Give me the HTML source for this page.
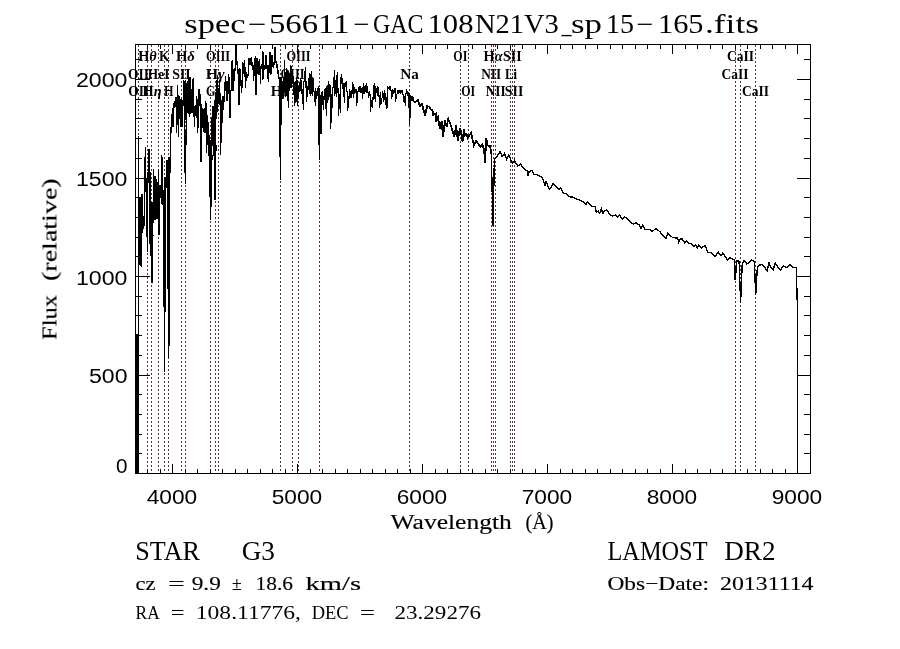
<!DOCTYPE html><html><head><meta charset="utf-8"><title>spec</title><style>
html,body{margin:0;padding:0;background:#fff}body{width:900px;height:649px;overflow:hidden}
svg{display:block}text{font-family:"Liberation Serif",serif;fill:#000}
.sans{font-family:"Liberation Sans",sans-serif}
.lab{font-size:14.5px;font-weight:bold}.med{stroke:#000;stroke-width:.15px}
</style></head><body>
<svg width="900" height="649" viewBox="0 0 900 649">
<rect width="900" height="649" fill="#fff"/>
<path d="M138.5 45V473M147.5 45V473M151.5 45V473M158.5 45V473M164.5 45V473M168.5 45V473M181.5 45V473M185.5 45V473M210.5 45V473M215.5 45V473M218.5 45V473M280.5 45V473M292.5 45V473M298.5 45V473M319.5 45V473M409.5 45V473M460.5 45V473M468.5 45V473M491.5 45V473M493.5 45V473M495.5 45V473M510.5 45V473M512.5 45V473M514.5 45V473M735.5 45V473M740.5 45V473M755.5 45V473" stroke="#5e3036" stroke-width="1" stroke-dasharray="2 2" fill="none" shape-rendering="crispEdges"/>
<path d="M139.5 197.0V265.0M140.5 197.0V265.5M141.5 194.3V266.6M142.5 194.3V232.5M143.5 216.0V228.7M144.5 157.0V226.0M145.5 147.0V191.8M146.5 178.0V237.0M147.5 172.0V252.0M148.5 149.2V182.7M149.5 149.2V244.0M150.5 172.0V256.3M151.5 202.0V240.0M152.5 202.0V240.0M153.5 169.0V223.0M154.5 176.0V220.0M155.5 176.0V220.0M156.5 179.0V219.0M157.5 182.0V218.5M158.5 170.0V235.3M159.5 185.4V235.3M160.5 185.4V198.0M161.5 155.0V204.0M162.5 157.0V205.0M163.5 190.0V200.0M164.5 177.0V200.0M165.5 177.0V200.0M166.5 160.0V188.0M167.5 160.0V200.0M168.5 157.0V200.0M169.5 157.0V200.0M170.5 126.5V173.0M171.5 114.3V132.7M172.5 107.7V127.0M173.5 102.8V127.0M174.5 101.0V107.7M175.5 97.2V107.0M176.5 96.7V132.7M177.5 85.0V125.0M178.5 95.0V136.5M179.5 95.5V118.8M180.5 99.0V126.5M181.5 99.0V126.5M182.5 99.5V126.5M183.5 80.0V106.0M184.5 81.0V120.0M185.5 79.5V120.0M186.5 82.8V130.0M187.5 81.0V113.0M188.5 77.2V113.8M189.5 77.2V116.5M190.5 77.2V113.8M191.5 89.4V113.0M192.5 79.0V113.0M193.5 78.3V116.5M194.5 106.0V126.8M195.5 105.0V116.0M196.5 96.0V118.0M197.5 99.0V132.7M198.5 89.2V127.7M199.5 89.2V106.0M200.5 94.0V161.7M201.5 104.4V161.7M202.5 108.0V128.0M203.5 108.8V132.0M204.5 108.0V132.7M205.5 101.0V133.0M206.5 103.0V152.5M207.5 115.4V145.0M208.5 122.0V155.5M209.5 135.0V160.0M210.5 140.0V160.0M211.5 117.0V160.0M212.5 106.0V145.5M213.5 106.0V150.0M214.5 100.0V150.0M215.5 92.0V150.0M216.5 80.0V118.8M217.5 75.0V111.5M218.5 88.0V104.0M219.5 80.0V105.0M220.5 93.0V154.7M221.5 99.5V143.3M222.5 96.0V123.0M223.5 96.0V110.0M224.5 82.0V101.8M225.5 76.3V90.5M226.5 81.0V100.7M227.5 81.0V100.7M228.5 74.0V94.0M229.5 77.0V117.9M230.5 89.5V117.9M231.5 61.3V90.7M232.5 60.2V90.7M233.5 69.0V90.7M234.5 68.0V81.0M235.5 44.5V70.8M236.5 44.5V64.7M237.5 61.0V73.5M238.5 68.5V104.8M239.5 68.0V104.8M240.5 68.5V86.0M241.5 79.5V92.6M242.5 62.2V87.6M243.5 63.0V74.0M244.5 60.0V77.0M245.5 67.0V88.0M246.5 72.0V81.0M247.5 73.5V78.0M248.5 58.0V75.8M249.5 58.0V64.7M250.5 58.0V64.7M251.5 57.0V65.8M252.5 62.0V70.0M253.5 64.7V80.8M254.5 58.0V76.0M255.5 56.0V94.5M256.5 58.0V94.5M257.5 58.0V74.0M258.5 61.0V74.7M259.5 59.0V75.0M260.5 65.8V84.0M261.5 64.0V69.0M262.5 51.0V79.7M263.5 52.0V79.3M264.5 65.0V70.0M265.5 55.4V69.3M266.5 55.4V69.3M267.5 65.0V79.3M268.5 65.0V81.8M269.5 52.0V72.7M270.5 52.0V75.0M271.5 55.0V73.8M272.5 55.0V67.0M273.5 62.0V67.7M274.5 47.0V65.0M275.5 47.0V63.0M276.5 61.0V68.0M277.5 63.8V73.8M278.5 70.0V79.3M279.5 77.0V125.0M280.5 77.0V125.0M281.5 77.0V125.0M282.5 81.0V98.3M283.5 77.0V96.3M284.5 59.5V88.3M285.5 71.8V97.3M286.5 68.4V96.0M287.5 70.0V100.9M288.5 75.6V108.3M289.5 72.9V91.0M290.5 65.0V88.1M291.5 66.0V88.4M292.5 71.3V84.2M293.5 76.2V95.0M294.5 81.7V106.4M295.5 80.5V103.1M296.5 77.0V101.6M297.5 80.0V106.0M298.5 86.2V99.4M299.5 81.5V92.0M300.5 78.4V90.7M301.5 80.0V94.0M302.5 89.3V104.2M303.5 80.7V110.3M304.5 70.7V82.2M305.5 67.3V88.4M306.5 80.7V102.2M307.5 85.8V97.4M308.5 77.6V90.4M309.5 73.0V93.7M310.5 73.8V96.0M311.5 70.7V93.7M312.5 77.3V96.0M313.5 77.9V91.9M314.5 90.9V101.7M315.5 88.0V106.0M316.5 91.4V99.4M317.5 87.8V95.5M318.5 86.0V145.4M319.5 88.0V160.0M320.5 95.0V134.0M321.5 92.0V134.0M322.5 90.5V104.7M323.5 95.5V110.0M324.5 89.0V100.0M325.5 88.1V109.4M326.5 85.5V115.5M327.5 85.3V103.0M328.5 80.5V99.9M329.5 84.0V96.7M330.5 84.7V129.0M331.5 94.4V122.5M332.5 86.7V107.8M333.5 76.9V87.7M334.5 70.0V95.5M335.5 80.4V93.7M336.5 75.2V96.7M337.5 72.0V93.2M338.5 87.8V115.5M339.5 93.6V108.9M340.5 77.0V113.3M341.5 74.4V84.1M342.5 78.3V89.0M343.5 83.3V96.6M344.5 82.5V103.0M345.5 81.9V87.0M346.5 81.0V92.2M347.5 91.2V110.5M348.5 96.0V108.3M349.5 89.0V99.0M350.5 90.7V98.1M351.5 89.8V97.8M352.5 82.0V93.9M353.5 83.6V97.8M354.5 86.7V93.9M355.5 88.9V92.5M356.5 88.8V105.5M357.5 91.2V102.6M358.5 86.9V92.2M359.5 85.5V92.0M360.5 86.2V92.6M361.5 87.8V93.3M362.5 87.3V99.0M363.5 83.0V93.8M364.5 86.1V94.4M365.5 84.7V92.4M366.5 83.0V93.0M367.5 86.3V92.8M368.5 91.8V97.8M369.5 91.0V95.8M370.5 94.4V111.7M371.5 99.6V106.9M372.5 96.8V107.9M373.5 84.7V100.3M374.5 83.0V99.0M375.5 85.8V102.0M376.5 87.5V92.9M377.5 85.5V95.6M378.5 86.7V96.7M379.5 94.8V108.3M380.5 92.0V104.9M381.5 97.6V104.3M382.5 91.0V98.4M383.5 92.9V102.0M384.5 90.0V100.0M385.5 93.3V104.6M386.5 97.4V109.4M387.5 86.3V107.8M388.5 86.7V89.4M389.5 86.0V89.5M390.5 85.5V91.2M391.5 90.2V99.0M392.5 89.0V96.6M393.5 90.0V93.6M394.5 87.8V92.9M395.5 88.4V102.0M396.5 94.0V98.8M397.5 90.2V94.4M398.5 89.5V93.6M399.5 90.2V93.2M400.5 90.2V93.5M401.5 90.1V92.8M402.5 90.4V95.0M403.5 94.0V101.5M404.5 95.9V102.8M405.5 93.3V105.5M406.5 89.0V93.6M407.5 90.6V95.5M408.5 92.0V108.0M409.5 93.0V125.0M410.5 95.0V117.8M411.5 95.5V101.0M412.5 96.1V100.5M413.5 97.0V99.8" stroke="#000" stroke-width="1" fill="none" shape-rendering="crispEdges"/>
<path d="M136.0 334H137.8V473.5H136.0ZM137.5 136H138.6V473.5H137.5ZM138.3 197H139.2V262H138.3ZM279 125H280.6V156.5H279ZM279.8 156H280.8V180.4H279.8ZM796 268H797V300H796ZM796.5 288H797.5V435H796.5ZM797 415H798V473.5H797Z" fill="#000" shape-rendering="crispEdges"/>
<path d="M162.88 195L164.12 195L165.12 371.5L163.88 371.5ZM165.08 195L166.32 195L165.12 371.5L163.88 371.5ZM163.58 195L164.82 195L165.52 300L164.28 300ZM164.58 195L165.82 195L165.52 300L164.28 300ZM166.88 195L168.12 195L169.22 358L167.98 358ZM169.08 195L170.32 195L169.22 358L167.98 358ZM168.18 195L169.42 195L169.82 346L168.58 346ZM168.88 195L170.12 195L169.82 346L168.58 346ZM183.68 115L184.92 115L185.92 184L184.68 184ZM185.58 125L186.82 125L185.92 184L184.68 184ZM208.68 155L209.92 155L211.22 220L209.98 220ZM211.38 155L212.62 155L211.22 220L209.98 220ZM209.58 155L210.82 155L211.22 200L209.98 200ZM210.58 155L211.82 155L211.22 200L209.98 200ZM213.28 145L214.52 145L215.72 199.6L214.48 199.6ZM215.38 145L216.62 145L215.72 199.6L214.48 199.6ZM213.98 145L215.22 145L215.72 191L214.48 191ZM214.88 145L216.12 145L215.72 191L214.48 191ZM150.48 235L151.72 235L152.72 283L151.48 283ZM152.28 235L153.52 235L152.72 283L151.48 283Z" fill="#000" shape-rendering="crispEdges"/>
<polyline points="411.5,97.0 413.0,100.5 415.0,102.5 417.8,100.0 420.0,106.1 421.9,103.9 425.0,115.5 427.2,106.1 429.4,106.7 430.5,109.4 432.2,109.4 433.3,115.0 436.0,113.5 436.3,121.7 438.0,117.5 440.0,128.9 441.7,121.1 443.0,137.2 445.0,120.5 446.7,126.7 448.3,118.9 450.5,124.4 454.4,136.7 456.1,125.0 457.8,140.5 460.0,128.3 461.0,132.0 462.5,141.7 463.9,129.4 465.0,135.5 466.7,134.4 467.8,137.8 471.1,132.8 473.9,145.5 476.1,141.1 478.3,143.9 480.5,146.7 482.2,144.4 484.2,150.0 485.0,162.8 486.3,138.3 487.8,145.5 490.2,146.1 491.3,153.9 493.0,225.5 494.4,158.9 497.2,156.1 500.2,151.7 502.2,156.7 504.4,153.5 506.7,159.4 508.9,155.0 512.2,163.3 514.4,160.5 517.8,166.1 520.5,163.9 523.9,168.9 527.2,171.1 528.0,176.1 529.1,171.7 532.0,170.5 533.9,174.4 537.8,175.0 542.2,177.2 545.0,185.0 546.1,181.7 549.4,189.4 551.1,187.8 553.1,183.2 557.0,187.1 559.3,189.4 560.9,187.9 563.2,193.3 565.6,193.3 568.7,196.7 573.3,197.2 578.0,199.5 583.4,201.9 586.1,204.5 587.6,201.9 592.0,206.5 595.1,206.5 596.2,212.0 598.2,211.2 599.8,213.5 601.3,208.9 602.9,213.5 604.4,211.2 606.8,210.1 609.9,214.3 612.2,215.9 615.3,215.1 617.6,217.4 619.7,214.8 622.3,219.5 624.6,216.7 628.5,220.1 633.2,224.1 636.3,222.9 639.4,225.2 641.0,228.3 642.8,224.7 644.9,229.4 649.5,229.4 651.9,231.4 655.8,228.8 659.6,231.4 662.8,235.6 665.9,238.4 667.7,233.5 672.9,237.7 677.5,238.0 678.8,242.3 680.3,238.4 682.3,239.1 684.7,243.0 686.5,240.7 689.3,243.8 691.7,243.8 694.0,246.1 695.6,244.9 697.1,248.0 698.7,245.3 701.8,248.0 704.9,245.3 708.0,252.3 711.9,253.1 715.0,256.7 718.1,252.0 721.2,255.7 722.8,253.1 725.9,257.3 727.4,260.1 729.8,257.8 733.7,259.3 734.7,260.1 735.2,280.3 736.8,260.9 739.1,261.3 740.6,302.9 742.2,264.8 744.1,260.1 746.9,264.0 749.2,262.9 751.5,260.1 754.3,261.3 755.7,295.1 757.3,267.9 759.3,265.1 762.4,264.5 764.8,267.6 767.1,270.7 769.0,262.9 771.0,267.1 773.3,269.4 775.2,262.9 777.7,267.1 780.3,270.2 783.4,266.0 786.5,267.6 790.4,264.5 792.8,267.1 796.3,267.9 796.5,270.0" fill="none" stroke="#000" stroke-width="1.35" stroke-linejoin="miter" shape-rendering="crispEdges"/>
<polyline points="411.5,97.0 413.0,100.5 415.0,102.5 417.8,100.0 420.0,106.1 421.9,103.9 425.0,115.5 427.2,106.1 429.4,106.7 430.5,109.4 432.2,109.4 433.3,115.0 436.0,113.5 436.3,121.7 438.0,117.5 440.0,128.9 441.7,121.1 443.0,137.2 445.0,120.5 446.7,126.7 448.3,118.9 450.5,124.4 454.4,136.7 456.1,125.0 457.8,140.5 460.0,128.3 461.0,132.0 462.5,141.7 463.9,129.4 465.0,135.5 466.7,134.4 467.8,137.8 471.1,132.8 473.9,145.5 476.1,141.1 478.3,143.9 480.5,146.7 482.2,144.4 484.2,150.0 485.0,162.8 486.3,138.3 487.8,145.5 490.2,146.1 491.3,153.9" fill="none" stroke="#000" stroke-width="1.8" stroke-linejoin="miter" shape-rendering="crispEdges"/>
<rect x="135.5" y="44.5" width="675.0" height="429.0" fill="none" stroke="#000" stroke-width="1" shape-rendering="crispEdges"/>
<path d="M147.50 473.5v-4.3M147.50 44.5v4.3M160.00 473.5v-4.3M160.00 44.5v4.3M172.50 473.5v-9.5M172.50 44.5v9.5M185.00 473.5v-4.3M185.00 44.5v4.3M197.50 473.5v-4.3M197.50 44.5v4.3M210.00 473.5v-4.3M210.00 44.5v4.3M222.50 473.5v-4.3M222.50 44.5v4.3M235.00 473.5v-4.3M235.00 44.5v4.3M247.50 473.5v-4.3M247.50 44.5v4.3M260.00 473.5v-4.3M260.00 44.5v4.3M272.50 473.5v-4.3M272.50 44.5v4.3M285.00 473.5v-4.3M285.00 44.5v4.3M297.50 473.5v-9.5M297.50 44.5v9.5M310.00 473.5v-4.3M310.00 44.5v4.3M322.50 473.5v-4.3M322.50 44.5v4.3M335.00 473.5v-4.3M335.00 44.5v4.3M347.50 473.5v-4.3M347.50 44.5v4.3M360.00 473.5v-4.3M360.00 44.5v4.3M372.50 473.5v-4.3M372.50 44.5v4.3M385.00 473.5v-4.3M385.00 44.5v4.3M397.50 473.5v-4.3M397.50 44.5v4.3M410.00 473.5v-4.3M410.00 44.5v4.3M422.50 473.5v-9.5M422.50 44.5v9.5M435.00 473.5v-4.3M435.00 44.5v4.3M447.50 473.5v-4.3M447.50 44.5v4.3M460.00 473.5v-4.3M460.00 44.5v4.3M472.50 473.5v-4.3M472.50 44.5v4.3M485.00 473.5v-4.3M485.00 44.5v4.3M497.50 473.5v-4.3M497.50 44.5v4.3M510.00 473.5v-4.3M510.00 44.5v4.3M522.50 473.5v-4.3M522.50 44.5v4.3M535.00 473.5v-4.3M535.00 44.5v4.3M547.50 473.5v-9.5M547.50 44.5v9.5M560.00 473.5v-4.3M560.00 44.5v4.3M572.50 473.5v-4.3M572.50 44.5v4.3M585.00 473.5v-4.3M585.00 44.5v4.3M597.50 473.5v-4.3M597.50 44.5v4.3M610.00 473.5v-4.3M610.00 44.5v4.3M622.50 473.5v-4.3M622.50 44.5v4.3M635.00 473.5v-4.3M635.00 44.5v4.3M647.50 473.5v-4.3M647.50 44.5v4.3M660.00 473.5v-4.3M660.00 44.5v4.3M672.50 473.5v-9.5M672.50 44.5v9.5M685.00 473.5v-4.3M685.00 44.5v4.3M697.50 473.5v-4.3M697.50 44.5v4.3M710.00 473.5v-4.3M710.00 44.5v4.3M722.50 473.5v-4.3M722.50 44.5v4.3M735.00 473.5v-4.3M735.00 44.5v4.3M747.50 473.5v-4.3M747.50 44.5v4.3M760.00 473.5v-4.3M760.00 44.5v4.3M772.50 473.5v-4.3M772.50 44.5v4.3M785.00 473.5v-4.3M785.00 44.5v4.3M797.50 473.5v-9.5M797.50 44.5v9.5M135.5 453.80h6.5M810.5 453.80h-6.5M135.5 434.10h6.5M810.5 434.10h-6.5M135.5 414.40h6.5M810.5 414.40h-6.5M135.5 394.70h6.5M810.5 394.70h-6.5M135.5 375.00h14M810.5 375.00h-14M135.5 355.30h6.5M810.5 355.30h-6.5M135.5 335.60h6.5M810.5 335.60h-6.5M135.5 315.90h6.5M810.5 315.90h-6.5M135.5 296.20h6.5M810.5 296.20h-6.5M135.5 276.50h14M810.5 276.50h-14M135.5 256.80h6.5M810.5 256.80h-6.5M135.5 237.10h6.5M810.5 237.10h-6.5M135.5 217.40h6.5M810.5 217.40h-6.5M135.5 197.70h6.5M810.5 197.70h-6.5M135.5 178.00h14M810.5 178.00h-14M135.5 158.30h6.5M810.5 158.30h-6.5M135.5 138.60h6.5M810.5 138.60h-6.5M135.5 118.90h6.5M810.5 118.90h-6.5M135.5 99.20h6.5M810.5 99.20h-6.5M135.5 79.50h14M810.5 79.50h-14M135.5 59.80h6.5M810.5 59.80h-6.5" stroke="#000" stroke-width="1" fill="none" shape-rendering="crispEdges"/>
<g opacity="0.999">
<text class="lab" x="147.4" y="61" text-anchor="middle" textLength="18.5" lengthAdjust="spacingAndGlyphs">H<tspan font-style="italic">θ</tspan></text>
<text class="lab" x="164.3" y="61" text-anchor="middle" textLength="10.5" lengthAdjust="spacingAndGlyphs">K</text>
<text class="lab" x="185.4" y="61" text-anchor="middle" textLength="19" lengthAdjust="spacingAndGlyphs">H<tspan font-style="italic">δ</tspan></text>
<text class="lab" x="218.1" y="61" text-anchor="middle" textLength="24" lengthAdjust="spacingAndGlyphs">OIII</text>
<text class="lab" x="298.5" y="61" text-anchor="middle" textLength="24" lengthAdjust="spacingAndGlyphs">OIII</text>
<text class="lab" x="460.3" y="61" text-anchor="middle" textLength="14" lengthAdjust="spacingAndGlyphs">OI</text>
<text class="lab" x="493.1" y="61" text-anchor="middle" textLength="19" lengthAdjust="spacingAndGlyphs">H<tspan font-style="italic">α</tspan></text>
<text class="lab" x="512.3" y="61" text-anchor="middle" textLength="18.5" lengthAdjust="spacingAndGlyphs">SII</text>
<text class="lab" x="740.6" y="61" text-anchor="middle" textLength="27" lengthAdjust="spacingAndGlyphs">CaII</text>
<text class="lab" x="138.4" y="79" text-anchor="middle" textLength="21" lengthAdjust="spacingAndGlyphs">OII</text>
<text class="lab" x="158.6" y="79" text-anchor="middle" textLength="21.5" lengthAdjust="spacingAndGlyphs">HeI</text>
<text class="lab" x="181.5" y="79" text-anchor="middle" textLength="18.5" lengthAdjust="spacingAndGlyphs">SII</text>
<text class="lab" x="215.2" y="79" text-anchor="middle" textLength="19" lengthAdjust="spacingAndGlyphs">H<tspan font-style="italic">γ</tspan></text>
<text class="lab" x="292.5" y="79" text-anchor="middle" textLength="24" lengthAdjust="spacingAndGlyphs">OIII</text>
<text class="lab" x="409.5" y="79" text-anchor="middle" textLength="18.5" lengthAdjust="spacingAndGlyphs">Na</text>
<text class="lab" x="491.2" y="79" text-anchor="middle" textLength="20" lengthAdjust="spacingAndGlyphs">NII</text>
<text class="lab" x="511.0" y="79" text-anchor="middle" textLength="12" lengthAdjust="spacingAndGlyphs">Li</text>
<text class="lab" x="735.0" y="79" text-anchor="middle" textLength="27" lengthAdjust="spacingAndGlyphs">CaII</text>
<text class="lab" x="138.7" y="96" text-anchor="middle" textLength="21" lengthAdjust="spacingAndGlyphs">OII</text>
<text class="lab" x="152.1" y="96" text-anchor="middle" textLength="19" lengthAdjust="spacingAndGlyphs">H<tspan font-style="italic">η</tspan></text>
<text class="lab" x="168.7" y="96" text-anchor="middle" textLength="9.5" lengthAdjust="spacingAndGlyphs">H</text>
<text class="lab" x="210.7" y="96" text-anchor="middle" textLength="9.5" lengthAdjust="spacingAndGlyphs">G</text>
<text class="lab" x="280.3" y="96" text-anchor="middle" textLength="19" lengthAdjust="spacingAndGlyphs">H<tspan font-style="italic">β</tspan></text>
<text class="lab" x="468.2" y="96" text-anchor="middle" textLength="14" lengthAdjust="spacingAndGlyphs">OI</text>
<text class="lab" x="495.7" y="96" text-anchor="middle" textLength="20" lengthAdjust="spacingAndGlyphs">NII</text>
<text class="lab" x="514.1" y="96" text-anchor="middle" textLength="18.5" lengthAdjust="spacingAndGlyphs">SII</text>
<text class="lab" x="755.6" y="96" text-anchor="middle" textLength="27" lengthAdjust="spacingAndGlyphs">CaII</text>
<text x="184.3" y="33" font-size="26.5" textLength="61.2" lengthAdjust="spacingAndGlyphs">spec</text>
<text x="248" y="33" font-size="26.5" textLength="18.5" lengthAdjust="spacingAndGlyphs">−</text>
<text x="269" y="33" font-size="26.5" textLength="80.5" lengthAdjust="spacingAndGlyphs">56611</text>
<text x="353.5" y="33" font-size="26.5" textLength="16.0" lengthAdjust="spacingAndGlyphs">−</text>
<text x="373" y="33" font-size="26.5" textLength="50.5" lengthAdjust="spacingAndGlyphs">GAC</text>
<text x="427.5" y="33" font-size="26.5" textLength="46.0" lengthAdjust="spacingAndGlyphs">108</text>
<text x="475" y="33" font-size="26.5" textLength="83.8" lengthAdjust="spacingAndGlyphs">N21V3</text>
<text x="561.5" y="33" font-size="26.5" textLength="10.0" lengthAdjust="spacingAndGlyphs">_</text>
<text x="571" y="33" font-size="26.5" textLength="31.0" lengthAdjust="spacingAndGlyphs">sp</text>
<text x="606" y="33" font-size="26.5" textLength="28.0" lengthAdjust="spacingAndGlyphs">15</text>
<text x="636.5" y="33" font-size="26.5" textLength="17.0" lengthAdjust="spacingAndGlyphs">−</text>
<text x="658" y="33" font-size="26.5" textLength="45.5" lengthAdjust="spacingAndGlyphs">165</text>
<text x="705" y="33" font-size="26.5" textLength="54.0" lengthAdjust="spacingAndGlyphs">.fits</text>
<text class="sans" x="172.0" y="504" font-size="19.8" text-anchor="middle" textLength="50.5" lengthAdjust="spacingAndGlyphs">4000</text>
<text class="sans" x="297.0" y="504" font-size="19.8" text-anchor="middle" textLength="50.5" lengthAdjust="spacingAndGlyphs">5000</text>
<text class="sans" x="422.0" y="504" font-size="19.8" text-anchor="middle" textLength="50.5" lengthAdjust="spacingAndGlyphs">6000</text>
<text class="sans" x="547.0" y="504" font-size="19.8" text-anchor="middle" textLength="50.5" lengthAdjust="spacingAndGlyphs">7000</text>
<text class="sans" x="672.0" y="504" font-size="19.8" text-anchor="middle" textLength="50.5" lengthAdjust="spacingAndGlyphs">8000</text>
<text class="sans" x="797.0" y="504" font-size="19.8" text-anchor="middle" textLength="50.5" lengthAdjust="spacingAndGlyphs">9000</text>
<text class="sans" x="127.5" y="87.3" font-size="20.5" text-anchor="end" textLength="51.5" lengthAdjust="spacingAndGlyphs">2000</text>
<text class="sans" x="127.5" y="186.2" font-size="20.5" text-anchor="end" textLength="51.5" lengthAdjust="spacingAndGlyphs">1500</text>
<text class="sans" x="127.5" y="284.8" font-size="20.5" text-anchor="end" textLength="51.5" lengthAdjust="spacingAndGlyphs">1000</text>
<text class="sans" x="127.5" y="383.2" font-size="20.5" text-anchor="end" textLength="38.5" lengthAdjust="spacingAndGlyphs">500</text>
<text class="sans" x="127.5" y="473.3" font-size="20.5" text-anchor="end" textLength="11.5" lengthAdjust="spacingAndGlyphs">0</text>
<text x="390.5" y="529" class="med" font-size="20" textLength="121.3" lengthAdjust="spacingAndGlyphs">Wavelength</text>
<text x="525.6" y="529" class="med" font-size="20" textLength="27.9" lengthAdjust="spacingAndGlyphs">(Å)</text>
<g transform="translate(56.5,0) rotate(-90)">
<text x="-340" y="0" class="med" font-size="20" textLength="45.0" lengthAdjust="spacingAndGlyphs">Flux</text>
<text x="-281" y="0" class="med" font-size="20" textLength="102.7" lengthAdjust="spacingAndGlyphs">(relative)</text>
</g>
<text x="135.2" y="559.5" font-size="26.5" textLength="64.8" lengthAdjust="spacingAndGlyphs">STAR</text>
<text x="241.7" y="559.5" font-size="26.5" textLength="33.3" lengthAdjust="spacingAndGlyphs">G3</text>
<text x="607.5" y="559.7" font-size="26.5" textLength="100.0" lengthAdjust="spacingAndGlyphs">LAMOST</text>
<text x="724.2" y="559.7" font-size="26.5" textLength="51.3" lengthAdjust="spacingAndGlyphs">DR2</text>
<text x="135.6" y="590" class="med" font-size="19" textLength="20.0" lengthAdjust="spacingAndGlyphs">cz</text>
<text x="168" y="590" class="med" font-size="19" textLength="16.7" lengthAdjust="spacingAndGlyphs">=</text>
<text x="191.7" y="590" class="med" font-size="19" textLength="29.1" lengthAdjust="spacingAndGlyphs">9.9</text>
<text x="232" y="590" class="med" font-size="19" textLength="9.7" lengthAdjust="spacingAndGlyphs">±</text>
<text x="255.6" y="590" class="med" font-size="19" textLength="37.4" lengthAdjust="spacingAndGlyphs">18.6</text>
<text x="305.6" y="590" class="med" font-size="19" textLength="55.4" lengthAdjust="spacingAndGlyphs">km/s</text>
<text x="607.5" y="589.5" class="med" font-size="19" textLength="101.4" lengthAdjust="spacingAndGlyphs">Obs−Date:</text>
<text x="720" y="589.5" class="med" font-size="19" textLength="93.5" lengthAdjust="spacingAndGlyphs">20131114</text>
<text x="135.6" y="619.3" font-size="19" textLength="24.1" lengthAdjust="spacingAndGlyphs">RA</text>
<text x="170.8" y="619.3" font-size="19" textLength="13.9" lengthAdjust="spacingAndGlyphs">=</text>
<text x="195.8" y="619.3" font-size="19" textLength="105.2" lengthAdjust="spacingAndGlyphs">108.11776,</text>
<text x="311.7" y="619.3" font-size="19" textLength="36.9" lengthAdjust="spacingAndGlyphs">DEC</text>
<text x="359.7" y="619.3" font-size="19" textLength="15.3" lengthAdjust="spacingAndGlyphs">=</text>
<text x="394.5" y="619.3" font-size="19" textLength="86.5" lengthAdjust="spacingAndGlyphs">23.29276</text>
</g>
</svg></body></html>
